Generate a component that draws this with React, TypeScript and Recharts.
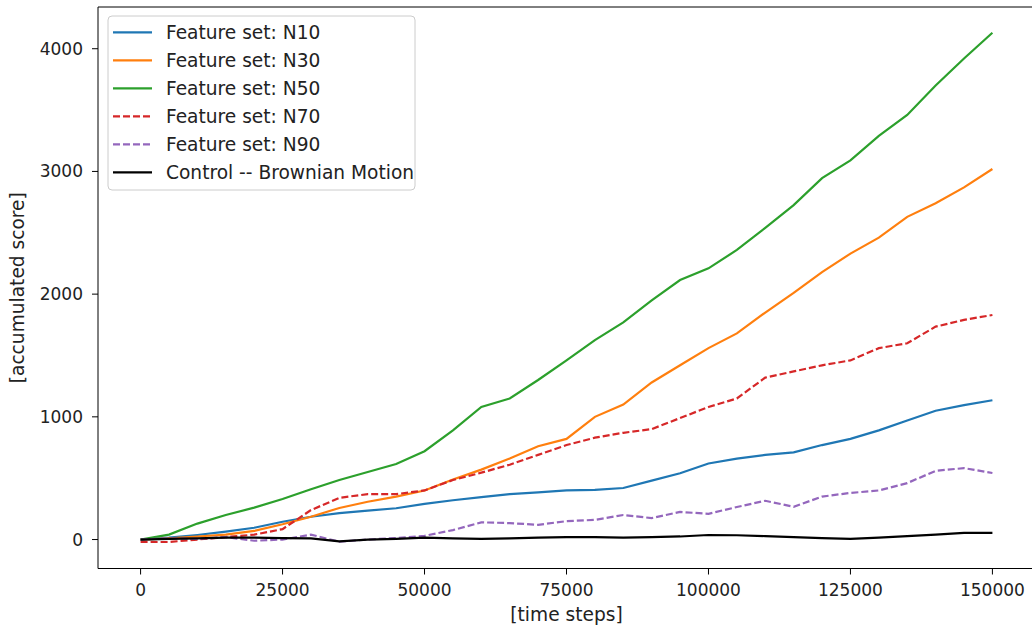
import { LineChart, Line, XAxis, YAxis, ReferenceLine } from "recharts";

// time steps, sampled every 5000
const steps = [
  0, 5000, 10000, 15000, 20000, 25000, 30000, 35000, 40000, 45000, 50000,
  55000, 60000, 65000, 70000, 75000, 80000, 85000, 90000, 95000, 100000,
  105000, 110000, 115000, 120000, 125000, 130000, 135000, 140000, 145000, 150000,
];

const n10 = [0, 15, 37, 64, 96, 145, 186, 216, 235, 255, 290, 320, 345, 370, 385, 400, 405, 420, 480, 540, 620, 660, 690, 710, 770, 820, 890, 970, 1050, 1095, 1135];
const n30 = [0, 10, 25, 40, 70, 125, 186, 257, 308, 350, 400, 490, 570, 660, 760, 820, 1000, 1100, 1280, 1420, 1560, 1680, 1850, 2010, 2180, 2330, 2460, 2630, 2740, 2870, 3020];
const n50 = [0, 40, 130, 200, 260, 330, 410, 485, 550, 615, 720, 890, 1080, 1150, 1300, 1460, 1625, 1770, 1950, 2115, 2210, 2360, 2540, 2725, 2945, 3090, 3290, 3460, 3700, 3920, 4130];
const n70 = [-20, -20, 0, 20, 40, 85, 240, 340, 370, 370, 400, 485, 545, 610, 690, 770, 830, 870, 900, 990, 1080, 1150, 1320, 1370, 1420, 1460, 1560, 1600, 1735, 1790, 1830];
const n90 = [0, 10, 5, 20, -10, 0, 40, -18, 0, 12, 30, 77, 140, 134, 120, 150, 160, 200, 175, 225, 210, 265, 316, 267, 350, 380, 400, 460, 560, 582, 542];
const control = [0, 5, 10, 15, 15, 12, 10, -15, 0, 5, 15, 10, 5, 10, 15, 20, 20, 15, 20, 25, 37, 35, 28, 20, 12, 5, 15, 28, 40, 55, 55];

const xTicks = [0, 25000, 50000, 75000, 100000, 125000, 150000];
const yTicks = [0, 1000, 2000, 3000, 4000];

const series = [
  { key: "n10", name: "Feature set: N10", color: "#1f77b4", dash: undefined },
  { key: "n30", name: "Feature set: N30", color: "#ff7f0e", dash: undefined },
  { key: "n50", name: "Feature set: N50", color: "#2ca02c", dash: undefined },
  { key: "n70", name: "Feature set: N70", color: "#d62728", dash: "7 3" },
  { key: "n90", name: "Feature set: N90", color: "#9467bd", dash: "7 3" },
  { key: "control", name: "Control -- Brownian Motion", color: "#000000", dash: undefined },
];

const data = steps.map((t, i) => ({
  t,
  n10: n10[i],
  n30: n30[i],
  n50: n50[i],
  n70: n70[i],
  n90: n90[i],
  control: control[i],
}));

const FONT = "'DejaVu Sans', sans-serif";
const TICK_SIZE = 17;
const LABEL_SIZE = 18.6;

const XTick = ({ x, y, payload }: any) => (
  <text x={x} y={y} dy="0.71em" textAnchor="middle" fontSize={TICK_SIZE} fill="#222" fontFamily={FONT}>
    {payload.value}
  </text>
);

const YTick = ({ x, y, payload }: any) => (
  <text x={x} y={y} dy="0.355em" textAnchor="end" fontSize={TICK_SIZE} fill="#222" fontFamily={FONT}>
    {payload.value}
  </text>
);

const YLabel = ({ viewBox }: any) => {
  const cy = viewBox.y + viewBox.height / 2;
  return (
    <text x={24} y={cy} transform={`rotate(-90, 24, ${cy})`} textAnchor="middle" fontSize={LABEL_SIZE} fill="#222" fontFamily={FONT}>
      [accumulated score]
    </text>
  );
};

const XLabel = ({ viewBox }: any) => (
  <text x={viewBox.x + viewBox.width / 2} y={621} textAnchor="middle" fontSize={LABEL_SIZE} fill="#222" fontFamily={FONT}>
    [time steps]
  </text>
);

function LegendBox() {
  return (
    <svg width={309} height={176} style={{ position: "absolute", left: 107, top: 15 }}>
      <rect x={1} y={1} width={307} height={174} rx={4} fill="rgba(255,255,255,0.8)" stroke="#cccccc" strokeWidth={1} />
      {series.map((s, i) => {
        const y = 17.3 + i * 28;
        return (
          <g key={s.key}>
            <line x1={6} x2={45} y1={y} y2={y} stroke={s.color} strokeWidth={2.2} strokeDasharray={s.dash} />
            <text x={59} y={y + 7} fontSize={LABEL_SIZE} fill="#222" fontFamily={FONT}>{s.name}</text>
          </g>
        );
      })}
    </svg>
  );
}

export default function App() {
  return (
    <div style={{ position: "fixed", left: 0, top: 0, width: 1032, height: 630, overflow: "hidden", background: "#fff" }}>
      <LineChart width={1040} height={630} data={data} margin={{ top: 7, right: 5, left: 0, bottom: 0 }}>
        <XAxis
          dataKey="t"
          type="number"
          domain={[-7500, 157500]}
          ticks={xTicks}
          interval={0}
          height={61.5}
          tickSize={6}
          tickMargin={9}
          tick={<XTick />}
          stroke="#000"
          tickLine={{ stroke: "#000" }}
          axisLine={{ stroke: "#000" }}
          label={<XLabel />}
          allowDataOverflow
        />
        <YAxis
          type="number"
          domain={[-236, 4340]}
          ticks={yTicks}
          interval={0}
          width={98}
          tickSize={6}
          tickMargin={9}
          tick={<YTick />}
          stroke="#000"
          tickLine={{ stroke: "#000" }}
          axisLine={{ stroke: "#000" }}
          label={<YLabel />}
          allowDataOverflow
        />
        <ReferenceLine y={4340} stroke="#000" strokeWidth={1} />
        {series.map((s) => (
          <Line
            key={s.key}
            dataKey={s.key}
            name={s.name}
            type="linear"
            stroke={s.color}
            strokeWidth={2.2}
            strokeDasharray={s.dash}
            dot={false}
            activeDot={false}
            isAnimationActive={false}
          />
        ))}
      </LineChart>
      <LegendBox />
    </div>
  );
}
